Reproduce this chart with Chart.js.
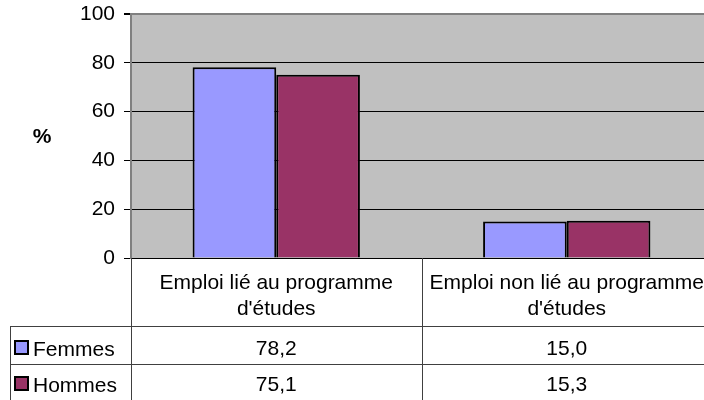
<!DOCTYPE html>
<html>
<head>
<meta charset="utf-8">
<script src="https://cdn.jsdelivr.net/npm/chart.js@4"></script>
<style>
  html, body { margin: 0; padding: 0; background: #ffffff; overflow: hidden; }
  #wrap { width: 712px; height: 400px; }
</style>
</head>
<body>
<div id="wrap"><canvas id="chart" width="712" height="400"></canvas></div>
<script>
// Data
const categories = [
  ["Emploi lié au programme", "d'études"],
  ["Emploi non lié au programme", "d'études"]
];
const seriesNames = ["Femmes", "Hommes"];
const femmesValues = [78.2, 15.0];
const hommesValues = [75.1, 15.3];
const seriesColors = ["#9999FF", "#993366"];

const FONT = "'Liberation Sans', Arial, sans-serif";
const FONT_SIZE = 21;

// Grey plot area drawn behind everything
const plotBackground = {
  id: "plotBackground",
  beforeDraw(chart) {
    const a = chart.chartArea;
    const ctx = chart.ctx;
    ctx.save();
    ctx.fillStyle = "#C0C0C0";
    ctx.fillRect(a.left, a.top, a.right - a.left, a.bottom - a.top);
    ctx.restore();
  }
};

// Axis title "%" and the data table under the chart
const dataTable = {
  id: "dataTable",
  afterDraw(chart) {
    const ctx = chart.ctx;
    const a = chart.chartArea;
    const xScale = chart.scales.x;
    const rowTop = [326, 364];
    const rowText = [349, 385];

    ctx.save();
    // y title
    ctx.fillStyle = "#000";
    ctx.font = "bold " + FONT_SIZE + "px " + FONT;
    ctx.textAlign = "center";
    ctx.textBaseline = "middle";
    ctx.fillText("%", 42, 137);

    // table lines
    ctx.strokeStyle = "#404040";
    ctx.lineWidth = 1;
    ctx.beginPath();
    rowTop.forEach(function(y) {
      ctx.moveTo(10, y + 0.5);
      ctx.lineTo(a.right, y + 0.5);
    });
    ctx.moveTo(10.5, rowTop[0]);
    ctx.lineTo(10.5, 400);
    // category boundaries
    const n = categories.length;
    for (let i = 0; i <= n; i++) {
      const x = Math.round(a.left + (a.right - a.left) * i / n) + 0.5;
      ctx.moveTo(x, a.bottom);
      ctx.lineTo(x, 400);
    }
    ctx.stroke();

    // rows: legend swatch, name, values
    chart.data.datasets.forEach(function(ds, r) {
      const y = rowText[r];
      ctx.fillStyle = ds.backgroundColor;
      ctx.fillRect(15, y - 8, 13, 13);
      ctx.strokeStyle = "#000";
      ctx.lineWidth = 2;
      ctx.strokeRect(15, y - 8, 13, 13);

      ctx.fillStyle = "#000";
      ctx.font = FONT_SIZE + "px " + FONT;
      ctx.textAlign = "left";
      ctx.textBaseline = "middle";
      ctx.fillText(ds.label, 33, y + 1);

      ctx.textAlign = "center";
      ds.data.forEach(function(v, i) {
        const x = xScale.getPixelForValue(i);
        ctx.fillText(v.toFixed(1).replace(".", ","), x, y);
      });
    });
    ctx.restore();
  }
};

new Chart(document.getElementById("chart"), {
  type: "bar",
  data: {
    labels: categories,
    datasets: [
      {
        label: seriesNames[0],
        data: femmesValues,
        backgroundColor: seriesColors[0],
        borderColor: "#000000",
        borderWidth: 2
      },
      {
        label: seriesNames[1],
        data: hommesValues,
        backgroundColor: seriesColors[1],
        borderColor: "#000000",
        borderWidth: 2
      }
    ]
  },
  options: {
    responsive: false,
    animation: false,
    devicePixelRatio: 1,
    categoryPercentage: 0.576,
    barPercentage: 1,
    layout: { padding: { top: 14, left: 0, right: 0, bottom: 0 } },
    plugins: {
      legend: { display: false },
      tooltip: { enabled: false }
    },
    scales: {
      x: {
        grid: { display: false },
        border: { display: true, color: "#000000", width: 1 },
        ticks: {
          color: "#000000",
          font: { family: FONT, size: FONT_SIZE, lineHeight: 1.25 },
          padding: 4,
          maxRotation: 0,
          autoSkip: false
        },
        afterFit: function(scale) {
          scale.height = 142;
          scale.paddingLeft = 0;
          scale.paddingRight = 0;
        }
      },
      y: {
        min: 0,
        max: 100,
        ticks: {
          stepSize: 20,
          color: "#000000",
          font: { family: FONT, size: FONT_SIZE },
          padding: 9
        },
        grid: {
          color: function(c) { return c.tick && c.tick.value === 100 ? "#808080" : "#000000"; },
          lineWidth: function(c) { return c.tick && c.tick.value === 100 ? 2 : 1; },
          tickColor: "#000000",
          tickLength: 7
        },
        border: { display: true, color: "#808080", width: 2 },
        afterFit: function(scale) {
          scale.width = 131;
          scale.paddingTop = 0;
          scale.paddingBottom = 0;
        }
      }
    }
  },
  plugins: [plotBackground, dataTable]
});
</script>
</body>
</html>
